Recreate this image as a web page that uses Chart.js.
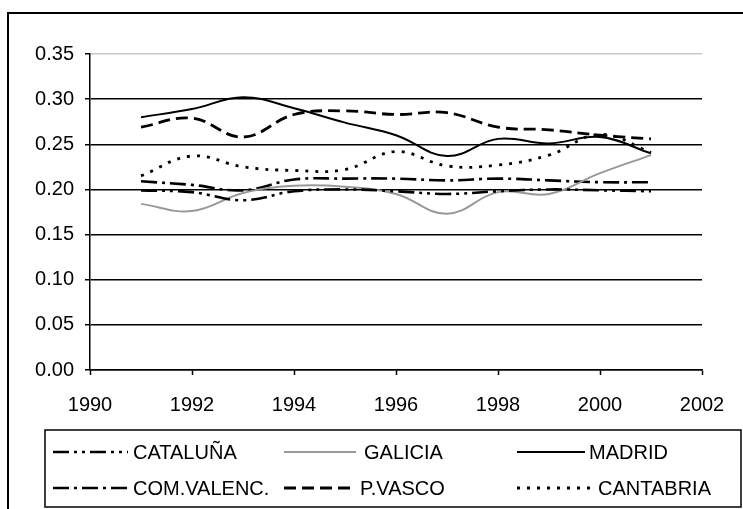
<!DOCTYPE html>
<html lang="es">
<head>
  <meta charset="UTF-8">
  <title>Regiones 1991-2001</title>
  <script src="https://cdn.jsdelivr.net/npm/chart.js"></script>
  <style>
    html, body { margin: 0; padding: 0; background: #fff; }
    #wrap { position: relative; width: 743px; height: 509px; overflow: hidden; }
  </style>
</head>
<body>
  <div id="wrap"><canvas id="chart" width="743" height="509"></canvas></div>
  <script>
    const years = [1991, 1992, 1993, 1994, 1995, 1996, 1997, 1998, 1999, 2000, 2001];
    const cataluna  = [0.199, 0.197, 0.188, 0.198, 0.200, 0.198, 0.195, 0.198, 0.200, 0.199, 0.198];
    const galicia   = [0.184, 0.176, 0.196, 0.204, 0.203, 0.195, 0.173, 0.197, 0.195, 0.218, 0.238];
    const madrid    = [0.280, 0.289, 0.302, 0.290, 0.274, 0.260, 0.237, 0.256, 0.251, 0.258, 0.240];
    const valenc    = [0.209, 0.205, 0.199, 0.211, 0.212, 0.212, 0.210, 0.212, 0.210, 0.208, 0.208];
    const vasco     = [0.269, 0.279, 0.258, 0.283, 0.287, 0.283, 0.285, 0.269, 0.266, 0.260, 0.256];
    const cantabria = [0.215, 0.237, 0.225, 0.221, 0.222, 0.242, 0.226, 0.227, 0.238, 0.261, 0.241];

    const FONT = '"Liberation Sans", Arial, sans-serif';
    const FS = 20;
    const pts = arr => arr.map((v, i) => ({ x: years[i], y: v }));

    function ds(label, arr, color, width, dash) {
      return {
        label, data: pts(arr), borderColor: color, backgroundColor: color,
        borderWidth: width, borderDash: dash, pointRadius: 0,
        tension: 0.4, fill: false, showLine: true
      };
    }

    const datasets = [
      ds('CATALUÑA', cataluna, '#000', 2.6, [16, 5, 3, 5, 3, 5]),
      ds('GALICIA', galicia, '#999', 2, []),
      ds('MADRID', madrid, '#000', 2, []),
      ds('COM.VALENC.', valenc, '#000', 2.6, [16, 5, 3, 5]),
      ds('P.VASCO', vasco, '#000', 2.8, [12, 6]),
      ds('CANTABRIA', cantabria, '#000', 2.8, [3, 7])
    ];

    // legend layout: [sample start, sample end, text x, row y]
    const legendSlots = [
      [53, 128, 133, 452], [284, 356, 364, 452], [517, 585, 589, 452],
      [53, 128, 133, 488], [284, 356, 360, 488], [517, 594, 598, 488]
    ];

    const frame = {
      id: 'frame',
      afterDraw(chart) {
        const c = chart.ctx;
        c.save();
        c.strokeStyle = '#000'; c.lineWidth = 2;
        c.strokeRect(8, 13, 800, 600);
        c.lineWidth = 1.5;
        c.strokeRect(45, 430, 696, 77);
        c.font = FS + 'px ' + FONT; c.fillStyle = '#000'; c.textBaseline = 'middle';
        chart.data.datasets.forEach((d, i) => {
          const [x0, x1, tx, y] = legendSlots[i];
          c.beginPath();
          c.strokeStyle = d.borderColor; c.lineWidth = d.borderWidth;
          c.setLineDash(d.borderDash);
          c.moveTo(x0, y); c.lineTo(x1, y); c.stroke();
          c.setLineDash([]);
          c.fillText(d.label, tx, y + 1);
        });
        c.restore();
      }
    };

    new Chart(document.getElementById('chart'), {
      type: 'scatter',
      data: { datasets },
      plugins: [frame],
      options: {
        responsive: false, animation: false,
        layout: { padding: { left: 0, top: 54, right: 41, bottom: 0 } },
        plugins: { legend: { display: false }, tooltip: { enabled: false } },
        scales: {
          x: {
            type: 'linear', min: 1990, max: 2002,
            afterFit: s => { s.height = 139; },
            ticks: { stepSize: 2, color: '#000', font: { family: FONT, size: FS }, padding: 18,
                     callback: v => String(v), maxRotation: 0 },
            grid: { drawOnChartArea: false, tickLength: 5, tickColor: '#000', tickWidth: 1.5 },
            border: { color: '#000', width: 1.5 }
          },
          y: {
            min: 0, max: 0.35,
            afterFit: s => { s.width = 90; },
            ticks: { stepSize: 0.05, color: '#000', font: { family: FONT, size: FS }, padding: 11,
                     callback: v => v.toFixed(2) },
            grid: {
              color: c => (c.tick && Math.abs(c.tick.value - 0.35) < 1e-6) ? '#c8c8c8' : '#000',
              lineWidth: 1.5, tickLength: 5, tickColor: '#000', tickWidth: 1.5
            },
            border: { color: '#000', width: 1.5 }
          }
        }
      }
    });
  </script>
</body>
</html>
